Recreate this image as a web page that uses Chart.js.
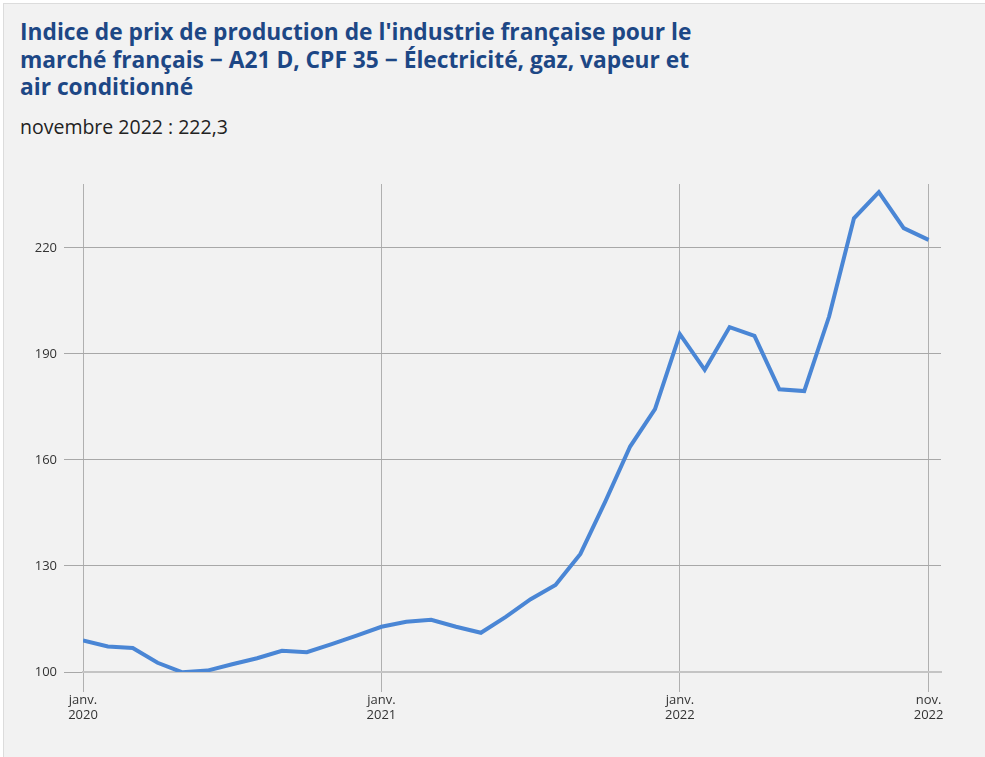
<!DOCTYPE html>
<html>
<head>
<meta charset="utf-8">
<script src="https://cdn.jsdelivr.net/npm/chart.js@4"></script>
<style>
  html, body { margin: 0; padding: 0; background: #ffffff; }
  #panel {
    position: absolute; left: 3px; top: 3px; width: 990px; height: 760px;
    background: #f2f2f2; border-left: 1px solid #dcdcdc; border-top: 1px solid #dcdcdc;
    font-family: "Open Sans", sans-serif;
  }
  h1 {
    position: absolute; left: 16px; top: 14px; margin: 0; width: 680px;
    font-size: 22.75px; line-height: 27.5px; font-weight: 700; color: #1d4785;
  }
  #sub {
    position: absolute; left: 16px; top: 109px; margin: 0;
    font-size: 19.5px; color: #222;
  }
  #wrap { position: absolute; left: 0; top: 150px; width: 985px; height: 607px; }
</style>
</head>
<body>
<div id="panel">
  <h1>Indice de prix de production de l'industrie française pour le marché français − A21 D, CPF 35 − Électricité, gaz, vapeur et air conditionné</h1>
  <p id="sub">novembre 2022 : 222,3</p>
</div>
<div id="wrap"><canvas id="c"></canvas></div>
<script>
// Monthly index, janv. 2020 -> nov. 2022
const months = [
  "2020-01","2020-02","2020-03","2020-04","2020-05","2020-06","2020-07","2020-08","2020-09","2020-10","2020-11","2020-12",
  "2021-01","2021-02","2021-03","2021-04","2021-05","2021-06","2021-07","2021-08","2021-09","2021-10","2021-11","2021-12",
  "2022-01","2022-02","2022-03","2022-04","2022-05","2022-06","2022-07","2022-08","2022-09","2022-10","2022-11"
];
const values = [
  108.9, 107.2, 106.8, 102.6, 99.9, 100.4, 102.2, 103.9, 106.0, 105.6, 107.9, 110.3,
  112.8, 114.2, 114.8, 112.8, 111.1, 115.6, 120.6, 124.6, 133.4, 148.2, 163.8, 174.4,
  195.6, 185.5, 197.6, 195.1, 180.0, 179.5, 200.6, 228.4, 235.8, 225.6, 222.3
];
const yTicks = [100, 130, 160, 190, 220];
const xTickMonths = ["2020-01", "2021-01", "2022-01", "2022-11"];
const xTickLabels = [["janv.", "2020"], ["janv.", "2021"], ["janv.", "2022"], ["nov.", "2022"]];

const points = values.map((v, i) => ({ x: i, y: v }));
const xTickIdx = xTickMonths.map(m => months.indexOf(m));

new Chart(document.getElementById("c"), {
  type: "line",
  data: {
    datasets: [{
      data: points,
      borderColor: "#4a86d5",
      borderWidth: 4,
      pointRadius: 0,
      tension: 0,
      fill: false
    }]
  },
  options: {
    responsive: true,
    maintainAspectRatio: false,
    animation: false,
    layout: { padding: { top: 34, right: 44, left: 0, bottom: 0 } },
    plugins: { legend: { display: false }, tooltip: { enabled: false } },
    scales: {
      x: {
        type: "linear",
        min: 0,
        max: 34.5,
        afterBuildTicks: s => { s.ticks = xTickIdx.map(v => ({ value: v })); },
        afterFit: s => { s.height = 85; },
        ticks: {
          autoSkip: false,
          maxRotation: 0,
          padding: 0,
          color: "#333",
          font: { family: "Open Sans", size: 13 },
          callback: v => xTickLabels[xTickIdx.indexOf(v)]
        },
        grid: { color: "#b0b0b0", lineWidth: 1, tickLength: 20, drawOnChartArea: true },
        border: { display: true, color: "#c4c4c4", width: 2 }
      },
      y: {
        min: 100,
        max: 238.1,
        afterBuildTicks: s => { s.ticks = yTicks.map(v => ({ value: v })); },
        afterFit: s => { s.width = 83; },
        ticks: {
          padding: 7,
          color: "#333",
          font: { family: "Open Sans", size: 13 }
        },
        grid: { color: "#a8a8a8", lineWidth: 1, tickLength: 19 },
        border: { display: false }
      }
    }
  }
});
</script>
</body>
</html>
